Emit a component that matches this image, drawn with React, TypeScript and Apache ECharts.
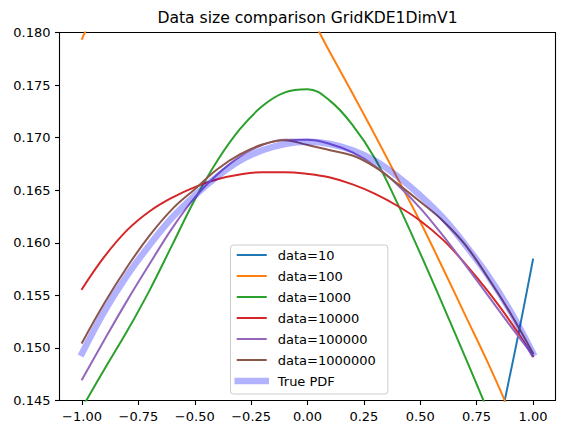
import { useEffect, useRef } from "react";
import * as echarts from "echarts";

const TITLE = "Data size comparison GridKDE1DimV1";

// Evaluation grid on [-1, 1]
const xs = [-1.0, -0.9, -0.8, -0.7, -0.6, -0.5, -0.4, -0.3, -0.2, -0.1, 0.0, 0.1, 0.2, 0.3, 0.4, 0.5, 0.6, 0.7, 0.8, 0.9, 1.0];

// Density estimates for each sample size
const data10 = [0.128, 0.126, 0.124, 0.122, 0.12, 0.118, 0.116, 0.114, 0.112, 0.111, 0.11, 0.11, 0.111, 0.113, 0.116, 0.12, 0.125, 0.131, 0.138, 0.1476, 0.1584];
const data100 = [0.1794, 0.1836, 0.1862, 0.1878, 0.189, 0.1895, 0.1893, 0.1885, 0.187, 0.185, 0.182, 0.1781, 0.1742, 0.1702, 0.1661, 0.162, 0.1576, 0.1531, 0.1486, 0.1438, 0.139];
const data1000 = [0.1443, 0.148, 0.1516, 0.1555, 0.1598, 0.1641, 0.1678, 0.1708, 0.173, 0.1743, 0.1746, 0.1735, 0.1712, 0.168, 0.1637, 0.159, 0.1541, 0.1491, 0.144, 0.1388, 0.1336];
const data10000 = [0.1556, 0.1587, 0.1612, 0.163, 0.1643, 0.1653, 0.16605, 0.1665, 0.16672, 0.16672, 0.16655, 0.1662, 0.16555, 0.16465, 0.1635, 0.1621, 0.1603, 0.158, 0.1554, 0.1525, 0.1492];
const data100000 = [0.147, 0.1508, 0.1545, 0.158, 0.1614, 0.1643, 0.1665, 0.1682, 0.1693, 0.1698, 0.1698, 0.1694, 0.1686, 0.1673, 0.1655, 0.1633, 0.1607, 0.1579, 0.155, 0.1521, 0.1493];
const data1000000 = [0.1505, 0.1543, 0.1577, 0.1607, 0.1632, 0.1651, 0.167, 0.1684, 0.16935, 0.16975, 0.1693, 0.1688, 0.1683, 0.1672, 0.1656, 0.1639, 0.1621, 0.1598, 0.1567, 0.1533, 0.1495];
const truePdf = [0.1495, 0.1535, 0.1569, 0.1598, 0.1624, 0.1645, 0.1663, 0.1678, 0.1688, 0.1694, 0.1696, 0.1694, 0.1688, 0.1678, 0.1663, 0.1645, 0.1624, 0.1598, 0.1569, 0.1535, 0.1495];

const seriesNames = ["data=10", "data=100", "data=1000", "data=10000", "data=100000", "data=1000000", "True PDF"];
const seriesValues = [data10, data100, data1000, data10000, data100000, data1000000, truePdf];
const seriesColors = ["#1f77b4", "#ff7f0e", "#2ca02c", "#d62728", "#9467bd", "#8c564b", "rgba(0,0,255,0.3)"];
const seriesWidths = [2, 2, 2, 2, 2, 2, 6.5];

const xTicks = [-1.0, -0.75, -0.5, -0.25, 0.0, 0.25, 0.5, 0.75, 1.0];

const FONT = "DejaVu Sans";

export default function App() {
  const ref = useRef<HTMLDivElement>(null);

  useEffect(() => {
    if (!ref.current) return;
    const chart = echarts.init(ref.current, null, { renderer: "svg" });

    const series = seriesNames.map((name, i) => ({
      name,
      type: "line",
      data: xs.map((x, j) => [x, seriesValues[i][j]]),
      smooth: 0.4,
      symbol: "none",
      clip: true,
      silent: true,
      color: seriesColors[i],
      lineStyle: { color: seriesColors[i], width: seriesWidths[i], cap: "square" },
      emphasis: { disabled: true },
    }));

    chart.setOption({
      animation: false,
      backgroundColor: "#ffffff",
      textStyle: { fontFamily: FONT },
      graphic: [
        {
          type: "text",
          x: 307.5,
          y: 18,
          style: {
            text: TITLE,
            fontSize: 15.6,
            fontFamily: FONT,
            fill: "#000",
            align: "center",
            verticalAlign: "middle",
          },
        },
      ],
      grid: {
        left: 59.5,
        top: 32.5,
        width: 496,
        height: 368,
        show: true,
        borderColor: "#000",
        borderWidth: 1.1,
        backgroundColor: "transparent",
      },
      xAxis: {
        type: "value",
        min: -1.1,
        max: 1.1,
        axisLine: { show: false, onZero: false },
        splitLine: { show: false },
        axisTick: {
          show: true,
          length: 4.5,
          inside: false,
          customValues: xTicks,
          lineStyle: { color: "#000", width: 1.1 },
        },
        axisLabel: {
          customValues: xTicks,
          margin: 9,
          color: "#000",
          fontSize: 13,
          fontFamily: FONT,
          formatter: (v: number) => v.toFixed(2).replace("-", "\u2212"),
        },
      },
      yAxis: {
        type: "value",
        min: 0.145,
        max: 0.18,
        interval: 0.005,
        axisLine: { show: false, onZero: false },
        splitLine: { show: false },
        axisTick: {
          show: true,
          length: 4.5,
          inside: false,
          lineStyle: { color: "#000", width: 1.1 },
        },
        axisLabel: {
          margin: 9,
          color: "#000",
          fontSize: 13,
          fontFamily: FONT,
          formatter: (v: number) => v.toFixed(3),
        },
      },
      legend: {
        orient: "vertical",
        left: 230.5,
        top: 245,
        selectedMode: false,
        itemWidth: 28,
        itemHeight: 1,
        itemGap: 7,
        padding: [3, 12, 6, 4],
        backgroundColor: "rgba(255,255,255,0.8)",
        borderColor: "#cccccc",
        borderWidth: 1,
        borderRadius: 3,
        textStyle: {
          fontSize: 13,
          fontFamily: FONT,
          color: "#000",
          lineHeight: 14,
          padding: [0, 0, 0, 7],
        },
        data: seriesNames.map((name, i) => ({
          name,
          lineStyle: { width: seriesWidths[i], cap: "square" },
        })),
      },
      series,
    });

    return () => chart.dispose();
  }, []);

  return (
    <div
      ref={ref}
      style={{ position: "absolute", left: 0, top: 0, width: 565, height: 435, background: "#fff" }}
    />
  );
}
